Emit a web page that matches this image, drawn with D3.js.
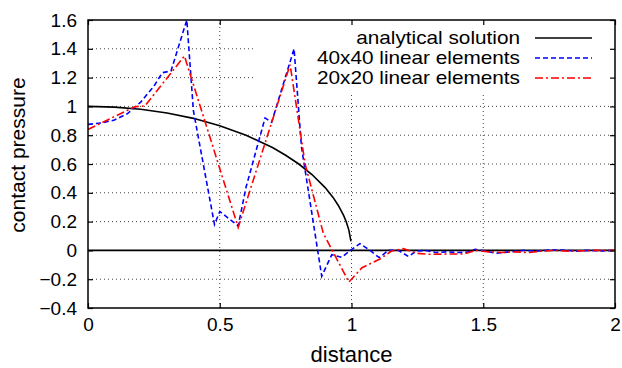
<!DOCTYPE html>
<html>
<head>
<meta charset="utf-8">
<script src="https://cdn.jsdelivr.net/npm/d3@7/dist/d3.min.js"></script>
<style>
  body { margin: 0; background: #fff; }
  text { font-family: "Liberation Sans", Arial, Helvetica, sans-serif; fill: #000; }
</style>
</head>
<body>
<div class="chart"></div>
<script>
'use strict'

// Data.
const xTicks = [0, 0.5, 1, 1.5, 2];
const yTicks = [-0.4, -0.2, 0, 0.2, 0.4, 0.6, 0.8, 1, 1.2, 1.4, 1.6];

const seriesNames = ['analytical solution', '40x40 linear elements', '20x20 linear elements'];

const analyticalX = [0, 0.1, 0.2, 0.3, 0.4, 0.5, 0.6, 0.7, 0.75, 0.8, 0.85, 0.9, 0.93, 0.95, 0.97, 0.98, 0.99, 0.998];
const analyticalP = [1, 0.995, 0.98, 0.954, 0.917, 0.866, 0.8, 0.714, 0.661, 0.6, 0.527, 0.436, 0.368, 0.312, 0.243, 0.199, 0.141, 0.063];

const fineX = [0, 0.05, 0.1, 0.15, 0.2, 0.25, 0.282, 0.315, 0.375, 0.4, 0.48, 0.5, 0.57, 0.6, 0.672, 0.697, 0.782, 0.81,
    0.887, 0.925, 0.962, 1.0, 1.032, 1.07, 1.105, 1.14, 1.178, 1.216, 1.247, 1.28, 1.32, 1.36, 1.4, 1.44, 1.47, 1.51,
    1.55, 1.6, 1.65, 1.7, 1.75, 1.8, 1.85, 1.9, 1.95, 2.0];
const fineP = [0.875, 0.885, 0.905, 0.95, 1.03, 1.14, 1.234, 1.246, 1.6, 0.97, 0.18, 0.27, 0.17, 0.44, 0.92, 0.89, 1.4, 0.72,
    -0.18, -0.03, -0.048, 0.005, 0.047, 0.0, -0.05, 0.0, 0.0, -0.042, -0.005, 0.0, -0.015, -0.01, -0.015, -0.012, 0.008, -0.005,
    -0.02, -0.01, 0.0, -0.005, 0.002, 0.003, -0.005, 0.0, -0.003, 0.0];

const coarseX = [0, 0.09, 0.178, 0.216, 0.366, 0.57, 0.767, 0.824, 0.893, 0.99, 1.04, 1.108, 1.152, 1.197, 1.247, 1.298,
    1.374, 1.424, 1.475, 1.52, 1.57, 1.62, 1.67, 1.72, 1.77, 1.82, 1.87, 1.92, 1.97, 2.0];
const coarseP = [0.84, 0.92, 0.998, 1.003, 1.35, 0.16, 1.29, 0.6, 0.119, -0.22, -0.12, -0.06, -0.004, 0.012, -0.02, -0.027,
    -0.025, -0.025, 0.0, -0.01, -0.015, -0.01, -0.015, -0.005, 0.0, -0.005, -0.003, 0.0, 0.0, 0.0];

// Dimensions.
let width = 622,
    height = 368,
    margin = {top: 20, right: 7, bottom: 60, left: 88},
    tickLen = 5;

let svg = d3.select('.chart')
    .append('svg')
    .attr('width', width)
    .attr('height', height);

let x = d3.scaleLinear()
    .domain([0, 2])
    .range([margin.left, width - margin.right]);

let y = d3.scaleLinear()
    .domain([-0.4, 1.6])
    .range([height - margin.bottom, margin.top]);

let fmt = d => {
    let s = String(+d.toFixed(1));
    return d < 0 ? '\u2212' + s.slice(1) : s;
};

// Grid lines (dotted).
let grid = svg.append('g').attr('class', 'grid')
    .attr('stroke', '#444')
    .attr('stroke-width', 1)
    .attr('stroke-dasharray', '1,3');

grid.selectAll('line.gx')
    .data(xTicks.slice(1, -1))
    .join('line')
    .attr('x1', d => x(d)).attr('x2', d => x(d))
    .attr('y1', y(-0.4)).attr('y2', y(1.6));

grid.selectAll('line.gy')
    .data(yTicks.slice(1, -1))
    .join('line')
    .attr('x1', x(0)).attr('x2', x(2))
    .attr('y1', d => y(d)).attr('y2', d => y(d));

// Opaque key box hides the grid behind it.
svg.append('rect')
    .attr('x', 256).attr('y', y(1.6))
    .attr('width', x(2) - 256).attr('height', 72)
    .attr('fill', '#fff');

// Zero axis.
svg.append('line')
    .attr('x1', x(0)).attr('x2', x(2))
    .attr('y1', y(0)).attr('y2', y(0))
    .attr('stroke', '#000')
    .attr('stroke-width', 1.8);

// Curves.
svg.append('clipPath').attr('id', 'plotClip')
    .append('rect')
    .attr('x', x(0)).attr('y', y(1.6) - 1)
    .attr('width', x(2) - x(0)).attr('height', y(-0.4) - y(1.6) + 1);

let line = d3.line().x(d => x(d[0])).y(d => y(d[1]));

let series = [
    {xs: analyticalX, ps: analyticalP, colour: '#000', dash: null, w: 1.6},
    {xs: fineX, ps: fineP, colour: '#0000ff', dash: '5,3', w: 1.6},
    {xs: coarseX, ps: coarseP, colour: '#ff0000', dash: '8,3,2,3', w: 1.6}
];

svg.append('g')
    .attr('class', 'curves')
    .attr('clip-path', 'url(#plotClip)')
    .selectAll('path')
    .data(series)
    .join('path')
    .attr('d', s => line(s.xs.map((v, i) => [v, s.ps[i]])))
    .attr('fill', 'none')
    .attr('stroke', s => s.colour)
    .attr('stroke-width', s => s.w)
    .attr('stroke-dasharray', s => s.dash)
    .attr('stroke-linejoin', 'miter');

// Axes with inward ticks on all four sides.
let xAxis = d3.axisBottom(x).tickValues(xTicks).tickSize(-tickLen).tickPadding(10).tickFormat(d => String(d));
let yAxis = d3.axisLeft(y).tickValues(yTicks).tickSize(-tickLen).tickPadding(11).tickFormat(fmt);

svg.append('g')
    .attr('transform', `translate(0,${y(-0.4)})`)
    .call(xAxis)
    .call(g => g.select('.domain').remove())
    .call(g => g.selectAll('text').style('font-size', '19px'));

svg.append('g')
    .attr('transform', `translate(${x(0)},0)`)
    .call(yAxis)
    .call(g => g.select('.domain').remove())
    .call(g => g.selectAll('text').style('font-size', '19px'));

svg.append('g')
    .attr('transform', `translate(0,${y(1.6)})`)
    .call(d3.axisTop(x).tickValues(xTicks).tickSize(-tickLen).tickFormat(''))
    .call(g => g.select('.domain').remove());

svg.append('g')
    .attr('transform', `translate(${x(2)},0)`)
    .call(d3.axisRight(y).tickValues(yTicks).tickSize(-tickLen).tickFormat(''))
    .call(g => g.select('.domain').remove());

svg.selectAll('.tick line').attr('stroke', '#000').attr('stroke-width', 1.2);

// Frame.
svg.append('rect')
    .attr('x', x(0)).attr('y', y(1.6))
    .attr('width', x(2) - x(0)).attr('height', y(-0.4) - y(1.6))
    .attr('fill', 'none')
    .attr('stroke', '#000')
    .attr('stroke-width', 1.5);

// Key (text slightly wide, as in the reference).
let key = svg.append('g').attr('class', 'key')
    .selectAll('g')
    .data(series)
    .join('g')
    .attr('transform', (d, i) => `translate(0,${38 + i * 20})`);

key.append('text')
    .attr('transform', 'translate(520,0) scale(1.18,1)')
    .attr('dy', '0.35em')
    .style('text-anchor', 'end')
    .style('font-size', '17.6px')
    .text((d, i) => seriesNames[i]);

key.append('line')
    .attr('x1', 535).attr('x2', 592)
    .attr('stroke', d => d.colour)
    .attr('stroke-width', d => d.w)
    .attr('stroke-dasharray', d => d.dash);

// Axis titles.
svg.append('text')
    .attr('x', (x(0) + x(2)) / 2)
    .attr('y', 362)
    .style('text-anchor', 'middle')
    .style('font-size', '22px')
    .text('distance');

svg.append('text')
    .attr('transform', `translate(25,155) rotate(-90)`)
    .style('text-anchor', 'middle')
    .style('font-size', '21px')
    .text('contact pressure');
</script>
</body>
</html>
